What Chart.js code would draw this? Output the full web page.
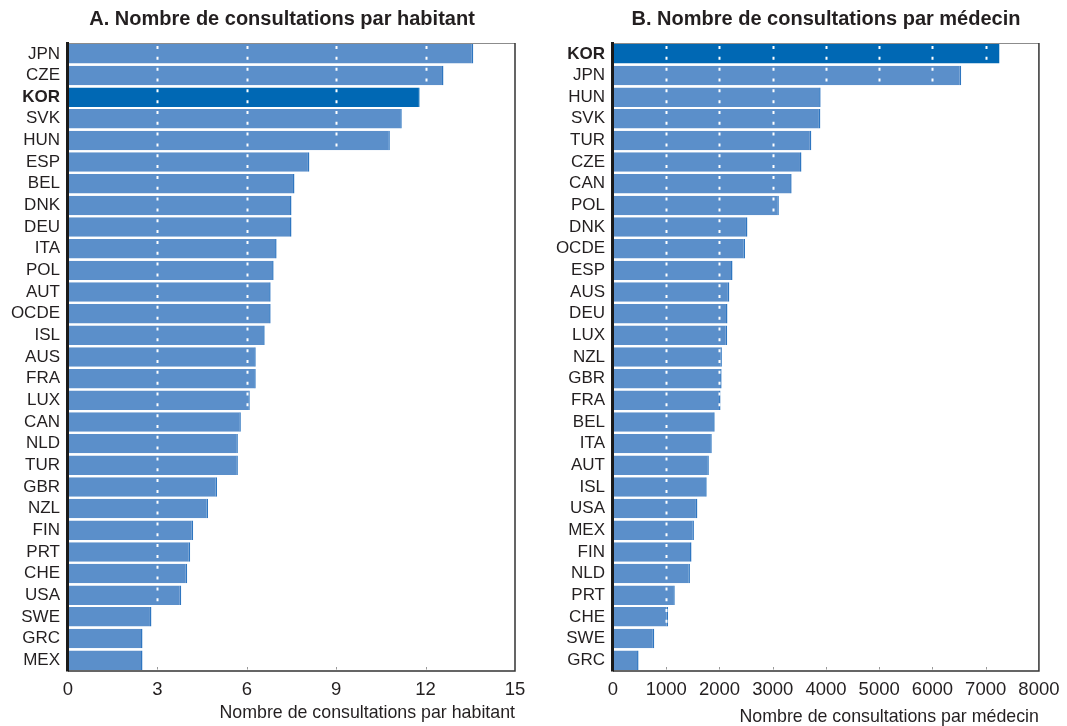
<!DOCTYPE html>
<html>
<head>
<meta charset="utf-8">
<script src="https://cdn.jsdelivr.net/npm/chart.js@4.4.1/dist/chart.umd.min.js"></script>
<style>
  html, body { margin: 0; padding: 0; background: #fff; }
  #wrap { position: relative; width: 1067px; height: 726px; overflow: hidden; }
  .panel { position: absolute; top: 0; height: 726px; }
  #pA { left: 0; width: 540px; }
  #pB { left: 540px; width: 527px; }
</style>
</head>
<body>
<div id="wrap">
  <div class="panel" id="pA"><canvas id="cA"></canvas></div>
  <div class="panel" id="pB"><canvas id="cB"></canvas></div>
</div>
<script>
// Panel A: consultations per inhabitant
const countriesA = ['JPN','CZE','KOR','SVK','HUN','ESP','BEL','DNK','DEU','ITA','POL','AUT','OCDE','ISL','AUS','FRA','LUX','CAN','NLD','TUR','GBR','NZL','FIN','PRT','CHE','USA','SWE','GRC','MEX'];
const valuesA = [13.6,12.6,11.8,11.2,10.8,8.1,7.6,7.5,7.5,7.0,6.9,6.8,6.8,6.6,6.3,6.3,6.1,5.8,5.7,5.7,5.0,4.7,4.2,4.1,4.0,3.8,2.8,2.5,2.5];
const ticksA = [0,3,6,9,12,15];

// Panel B: consultations per doctor
const countriesB = ['KOR','JPN','HUN','SVK','TUR','CZE','CAN','POL','DNK','OCDE','ESP','AUS','DEU','LUX','NZL','GBR','FRA','BEL','ITA','AUT','ISL','USA','MEX','FIN','NLD','PRT','CHE','SWE','GRC'];
const valuesB = [7260,6540,3900,3895,3725,3540,3355,3115,2525,2480,2245,2185,2150,2145,2045,2040,2020,1910,1855,1800,1760,1585,1520,1475,1445,1160,1035,775,480];
const ticksB = [0,1000,2000,3000,4000,5000,6000,7000,8000];

const titles = ['A. Nombre de consultations par habitant', 'B. Nombre de consultations par médecin'];
const axisTitles = ['Nombre de consultations par habitant', 'Nombre de consultations par médecin'];
const highlight = 'KOR';

const FONT = "'Liberation Sans', Arial, Helvetica, sans-serif";
const TEXT = '#231f20';
const BAR = '#5b8fca';
const BAR_EDGE = '#2f76c0';
const BAR_HI = '#0068b4';

// White dotted grid lines over the bars, small inner ticks and the frame
const overlay = {
  id: 'overlay',
  afterLayout(chart, args, opts) {
    // move the panel heading sideways so it sits over the labelled plot
    const t = chart.titleBlock;
    if (t && opts.titleShift) { t.left += opts.titleShift; t.right += opts.titleShift; }
  },
  afterDatasetsDraw(chart) {
    const { ctx, chartArea: a, scales: { x, y } } = chart;
    const rowH = (a.bottom - a.top) / y.ticks.length;
    ctx.save();
    x.ticks.forEach(t => {
      if (t.value <= x.min || t.value >= x.max) return;
      const px = Math.round(x.getPixelForValue(t.value)) + 0.5;
      ctx.strokeStyle = '#ffffff';
      ctx.lineWidth = 2;
      ctx.setLineDash([3, rowH / 2 - 3]);
      ctx.beginPath();
      ctx.moveTo(px, a.top + 3);
      ctx.lineTo(px, a.bottom - 4);
      ctx.stroke();
      ctx.setLineDash([]);
      ctx.strokeStyle = '#9a9a9a';
      ctx.lineWidth = 1;
      ctx.beginPath();
      ctx.moveTo(px, a.bottom - 4);
      ctx.lineTo(px, a.bottom - 1.5);
      ctx.stroke();
    });
    // frame
    ctx.setLineDash([]);
    ctx.strokeStyle = '#8c8c8c';
    ctx.lineWidth = 1;
    ctx.beginPath();
    ctx.moveTo(a.left, a.top + 0.5);
    ctx.lineTo(a.right, a.top + 0.5);
    ctx.stroke();
    ctx.strokeStyle = '#333';
    ctx.lineWidth = 1.5;
    ctx.beginPath();
    ctx.moveTo(a.right, a.top);
    ctx.lineTo(a.right, a.bottom);
    ctx.lineTo(a.left, a.bottom);
    ctx.stroke();
    ctx.strokeStyle = '#1a1a1a';
    ctx.lineWidth = 3;
    ctx.beginPath();
    ctx.moveTo(a.left - 0.5, a.top - 1);
    ctx.lineTo(a.left - 0.5, a.bottom + 0.5);
    ctx.stroke();
    ctx.restore();
  }
};

function makeChart(canvasId, cats, vals, ticks, title, axisTitle, padRight, yWidth, axisTitleBottom, titleShift) {
  const ctx = document.getElementById(canvasId);
  return new Chart(ctx, {
    type: 'bar',
    data: {
      labels: cats,
      datasets: [{
        data: vals,
        backgroundColor: cats.map(c => c === highlight ? BAR_HI : BAR),
        borderColor: cats.map(c => c === highlight ? BAR_HI : BAR_EDGE),
        borderWidth: { top: 0, bottom: 0, left: 0, right: 1.5 },
        borderSkipped: false,
        barPercentage: 0.9,
        categoryPercentage: 1.0
      }]
    },
    options: {
      indexAxis: 'y',
      responsive: true,
      maintainAspectRatio: false,
      animation: false,
      layout: { padding: { left: 0, right: padRight, top: 0, bottom: 0 } },
      plugins: {
        legend: { display: false },
        tooltip: { enabled: false },
        overlay: { titleShift: titleShift },
        title: {
          display: true,
          text: title,
          color: TEXT,
          font: { family: FONT, size: 20, weight: 'bold' },
          padding: { top: 7, bottom: 12 }
        }
      },
      scales: {
        x: {
          type: 'linear',
          min: ticks[0],
          max: ticks[ticks.length - 1],
          afterBuildTicks: s => { s.ticks = ticks.map(v => ({ value: v })); },
          afterFit: s => { s.height = 55; },
          grid: { display: false, drawTicks: false },
          border: { display: false },
          ticks: {
            color: TEXT,
            padding: 7.5,
            maxRotation: 0,
            autoSkip: false,
            font: { family: FONT, size: 18.5 },
            callback: v => String(v)
          },
          title: {
            display: true,
            text: axisTitle,
            align: 'end',
            color: TEXT,
            font: { family: FONT, size: 17.8 },
            padding: { top: 0, bottom: axisTitleBottom }
          }
        },
        y: {
          type: 'category',
          afterFit: s => { s.width = yWidth; },
          grid: { display: false, drawTicks: false },
          border: { display: false },
          ticks: {
            color: TEXT,
            padding: 8,
            autoSkip: false,
            font: c => ({ family: FONT, size: 17, weight: cats[c.index] === highlight ? 'bold' : 'normal' })
          }
        }
      }
    },
    plugins: [overlay]
  });
}

makeChart('cA', countriesA, valuesA, ticksA, titles[0], axisTitles[0], 25, 68, 2.3, 24.5);
makeChart('cB', countriesB, valuesB, ticksB, titles[1], axisTitles[1], 24, 73, -1.5, 34.5);
</script>
</body>
</html>
